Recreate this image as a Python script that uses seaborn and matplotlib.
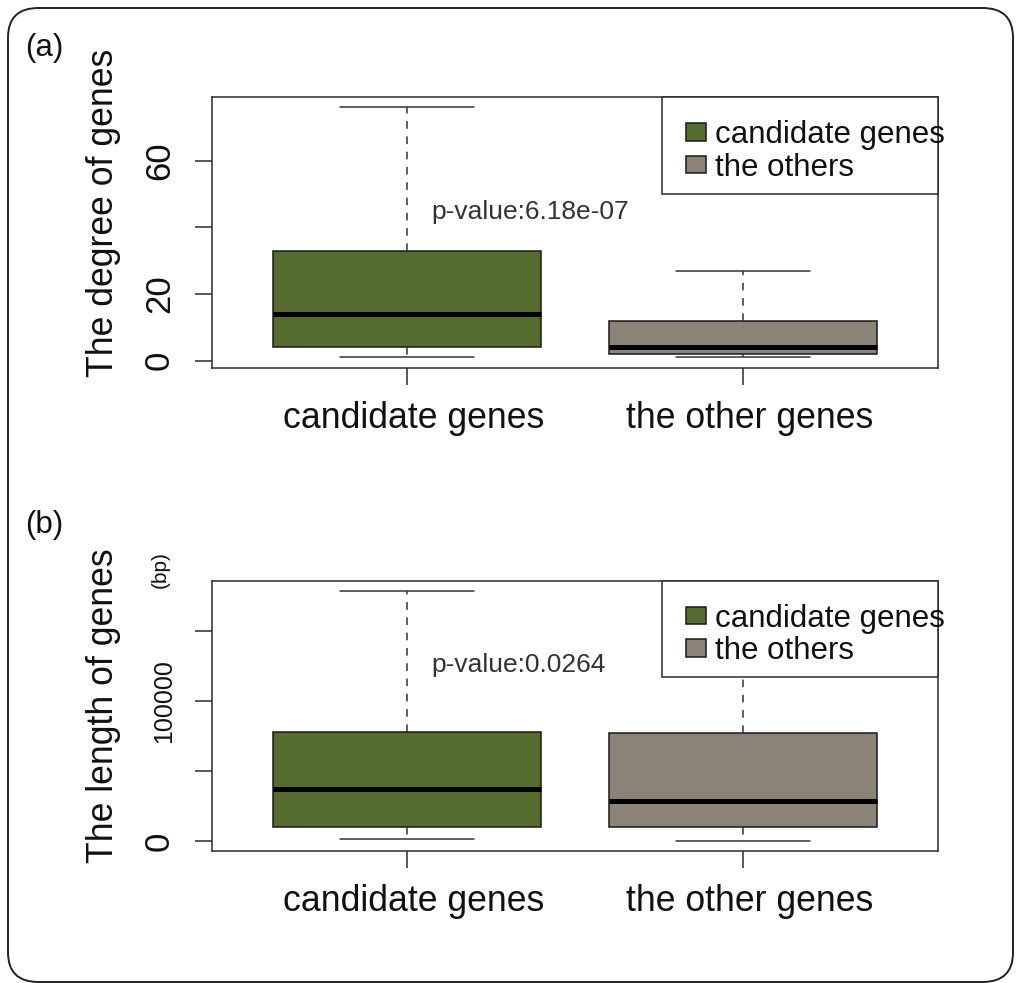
import numpy as np
import pandas as pd
import matplotlib
matplotlib.use("Agg")
import matplotlib.pyplot as plt
from matplotlib.patches import Patch, Rectangle, FancyBboxPatch
from matplotlib.transforms import ScaledTranslation
import seaborn as sns

# Categories and five-number summaries (min, Q1, median, Q3, max)
groups = ["candidate genes", "the other genes"]
legend_labels = ["candidate genes", "the others"]
degree_candidate = [1, 4, 14, 33, 76]
degree_others = [1, 2, 4, 12, 27]
length_candidate = [1200, 10200, 36900, 77500, 178500]
length_others = [200, 10200, 28700, 76800, 160000]

degree_ticks = [0, 20, 40, 60]
degree_ticklabels = ["0", "20", "", "60"]
length_ticks = [0, 50000, 100000, 150000]
length_ticklabels = ["0", "", "100000", ""]

pvalue_degree = "p-value:6.18e-07"
pvalue_length = "p-value:0.0264"

box_colors = ["#556B2F", "#8B8378"]
ink = "#2b2b2b"

sns.set_style("ticks")
plt.rcParams["font.family"] = ["Liberation Sans", "DejaVu Sans"]

fig = plt.figure(figsize=(10.16, 9.83), dpi=100)
ax_a = fig.add_axes([212 / 1016, 1 - 368 / 983, 726 / 1016, 271 / 983])
ax_b = fig.add_axes([212 / 1016, 1 - 851 / 983, 726 / 1016, 270.3 / 983])


def draw_panel(ax, cand, others, ylim, ticks, ticklabels, ylabel, ptext, pty):
    df = pd.DataFrame({
        "group": np.repeat(groups, 5),
        "value": list(cand) + list(others),
    })
    sns.boxplot(
        data=df, x="group", y="value", hue="group", palette=box_colors,
        legend=False, width=0.8, whis=(0, 100), showfliers=False,
        saturation=1, linecolor="#1a1a1a", linewidth=1.1, ax=ax,
        medianprops=dict(color="black", linewidth=3.6),
        whiskerprops=dict(color="#333333", linestyle=(0, (5, 5)), linewidth=1.1),
        capprops=dict(color="#333333", linewidth=1.1),
    )
    ax.set_xlim(-0.58, 1.58)
    ax.set_ylim(*ylim)
    ax.set_yticks(ticks)
    ax.set_yticklabels(ticklabels)
    ax.set_xlabel("")
    ax.set_ylabel(ylabel, fontsize=25.7, color="#111111", rotation=90)
    for s in ax.spines.values():
        s.set_visible(True)
        s.set_color(ink)
        s.set_linewidth(1.1)
    ax.tick_params(axis="both", direction="out", length=12, width=1.1,
                   color=ink, labelcolor="#111111", bottom=True, left=True)
    ax.tick_params(axis="x", labelsize=25.7, pad=12)
    ax.tick_params(axis="y", labelsize=25, pad=14, labelrotation=90)
    for lab in ax.get_yticklabels():
        lab.set_verticalalignment("center")
    # category labels sit slightly right of their ticks
    shift = ScaledTranslation(7 / 100, 0, fig.dpi_scale_trans)
    for lab in ax.get_xticklabels():
        lab.set_transform(lab.get_transform() + shift)
    ax.text(0.074, pty, ptext, fontsize=19, color="#333333",
            ha="left", va="center")

    # legend frame with white fill, overlapping the plot region
    ax.add_patch(Rectangle((0.62, 0.642), 0.38, 0.358, transform=ax.transAxes,
                           facecolor="white", edgecolor=ink, linewidth=1.1,
                           zorder=4, clip_on=False))
    handles = [Patch(facecolor=c, edgecolor="#1a1a1a", linewidth=1.1)
               for c in box_colors]
    leg = ax.legend(handles, legend_labels, loc="upper left",
                    bbox_to_anchor=(0.653, 0.915), frameon=False,
                    fontsize=22.5, handlelength=0.64, handleheight=0.5,
                    handletextpad=0.28, borderpad=0, borderaxespad=0,
                    labelspacing=0.08)
    leg.set_zorder(5)
    for t in leg.get_texts():
        t.set_color("#111111")


draw_panel(ax_a, degree_candidate, degree_others, (-2.2, 79.1),
           degree_ticks, degree_ticklabels, "The degree of genes",
           pvalue_degree, 44.7)
ax_a.yaxis.set_label_coords(-0.125, 0.572)

draw_panel(ax_b, length_candidate, length_others, (-7133, 185663),
           length_ticks, length_ticklabels, "The length of genes",
           pvalue_length, 125500)
ax_b.yaxis.set_label_coords(-0.125, 0.536)
for lab in ax_b.get_yticklabels():
    if lab.get_text() == "100000":
        lab.set_fontsize(18)

fig.text(160 / 1016, 1 - 570 / 983, "(bp)", fontsize=15, rotation=90,
         ha="center", va="center", color="#111111")
fig.text(25 / 1016, 1 - 48 / 983, "(a)", fontsize=22.5, ha="left",
         va="center", color="#111111")
fig.text(25 / 1016, 1 - 525 / 983, "(b)", fontsize=22.5, ha="left",
         va="center", color="#111111")

# rounded outer border
fig.patches.append(FancyBboxPatch(
    (8 / 1016, 1 / 983), 1005 / 1016, 974 / 983,
    boxstyle="round,pad=0,rounding_size=0.03", transform=fig.transFigure,
    facecolor="none", edgecolor="#222222", linewidth=1.4, figure=fig))

fig.savefig("out.png", dpi=100)
